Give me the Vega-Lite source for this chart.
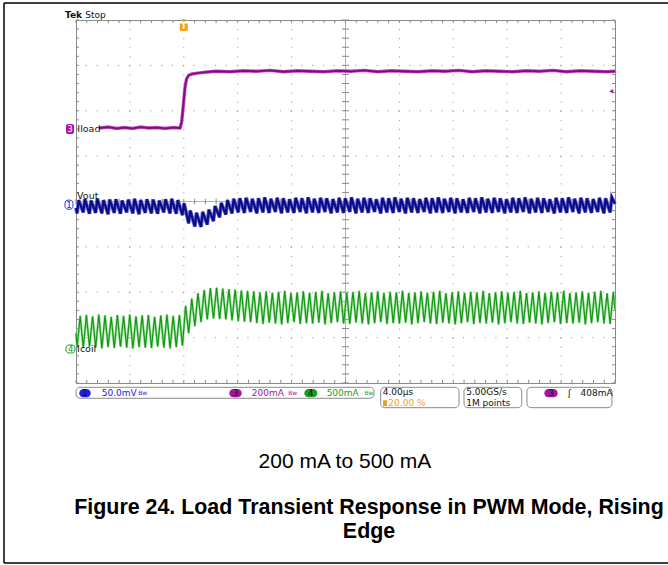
{
"$schema": "https://vega.github.io/schema/vega-lite/v6.json",
"width": 539, "height": 363,
"autosize": {"type": "none"},
"padding": {"left": 76, "top": 20, "right": 53, "bottom": 182},
"background": "white",
"config": {"view": {"stroke": "#8a8a8a", "strokeWidth": 1}, "font": "DejaVu Sans"},
"datasets": {
"tk": [{"v":0},{"v":0.2},{"v":0.4},{"v":0.6},{"v":0.8},{"v":1},{"v":1.2},{"v":1.4},{"v":1.6},{"v":1.8},{"v":2},{"v":2.2},{"v":2.4},{"v":2.6},{"v":2.8},{"v":3},{"v":3.2},{"v":3.4},{"v":3.6},{"v":3.8},{"v":4},{"v":4.2},{"v":4.4},{"v":4.6},{"v":4.8},{"v":5},{"v":5.2},{"v":5.4},{"v":5.6},{"v":5.8},{"v":6},{"v":6.2},{"v":6.4},{"v":6.6},{"v":6.8},{"v":7},{"v":7.2},{"v":7.4},{"v":7.6},{"v":7.8},{"v":8},{"v":8.2},{"v":8.4},{"v":8.6},{"v":8.8},{"v":9},{"v":9.2},{"v":9.4},{"v":9.6},{"v":9.8},{"v":10}],
"gx": [{"v":1},{"v":2},{"v":3},{"v":4},{"v":6},{"v":7},{"v":8},{"v":9}],
"gy": [{"v":1},{"v":2},{"v":3},{"v":5},{"v":6},{"v":7}],
"g": [{"x":0,"y":1.1},
{"x":0.02,"y":0.79},{"x":0.078,"y":1.48},{"x":0.135,"y":0.77},{"x":0.193,"y":1.5},{"x":0.25,"y":0.8},{"x":0.308,"y":1.47},{"x":0.365,"y":0.78},{"x":0.423,"y":1.51},{"x":0.48,"y":0.76},{"x":0.538,"y":1.49},{"x":0.595,"y":0.79},{"x":0.653,"y":1.46},{"x":0.71,"y":0.77},{"x":0.768,"y":1.5},{"x":0.825,"y":0.8},{"x":0.883,"y":1.48},{"x":0.94,"y":0.78},{"x":0.998,"y":1.51},{"x":1.055,"y":0.76},{"x":1.113,"y":1.47},{"x":1.17,"y":0.79},{"x":1.228,"y":1.49},{"x":1.285,"y":0.78},{"x":1.343,"y":1.5},{"x":1.4,"y":0.77},{"x":1.458,"y":1.46},{"x":1.515,"y":0.8},{"x":1.573,"y":1.49},{"x":1.63,"y":0.78},{"x":1.688,"y":1.51},{"x":1.745,"y":0.76},{"x":1.803,"y":1.48},{"x":1.86,"y":0.79},{"x":1.918,"y":1.5},
{"x":1.975,"y":0.82},{"x":2.033,"y":1.7},{"x":2.09,"y":1.1},{"x":2.148,"y":1.86},{"x":2.205,"y":1.25},{"x":2.263,"y":1.98},{"x":2.32,"y":1.34},{"x":2.378,"y":2.05},{"x":2.435,"y":1.4},{"x":2.493,"y":2.09},{"x":2.55,"y":1.42},{"x":2.608,"y":2.1},{"x":2.665,"y":1.41},{"x":2.723,"y":2.08},{"x":2.78,"y":1.4},{"x":2.838,"y":2.07},{"x":2.895,"y":1.38},{"x":2.953,"y":2.06},{"x":3.01,"y":1.36},{"x":3.068,"y":2.04},{"x":3.125,"y":1.35},{"x":3.183,"y":2.03},{"x":3.24,"y":1.34},{"x":3.298,"y":2.02},
{"x":3.355,"y":1.32},{"x":3.413,"y":2.0},{"x":3.47,"y":1.3},{"x":3.528,"y":2.02},{"x":3.585,"y":1.33},{"x":3.643,"y":1.99},{"x":3.7,"y":1.31},{"x":3.758,"y":2.01},{"x":3.815,"y":1.29},{"x":3.873,"y":2.03},{"x":3.93,"y":1.32},{"x":3.988,"y":1.98},{"x":4.045,"y":1.34},{"x":4.103,"y":2.0},{"x":4.16,"y":1.3},{"x":4.218,"y":2.02},{"x":4.275,"y":1.32},{"x":4.333,"y":1.99},{"x":4.39,"y":1.31},{"x":4.448,"y":2.01},{"x":4.505,"y":1.33},{"x":4.563,"y":2.03},{"x":4.62,"y":1.29},{"x":4.678,"y":1.98},{"x":4.735,"y":1.32},{"x":4.793,"y":2.0},{"x":4.85,"y":1.34},{"x":4.908,"y":2.02},{"x":4.965,"y":1.31},{"x":5.023,"y":1.99},{"x":5.08,"y":1.3},{"x":5.138,"y":2.01},{"x":5.195,"y":1.33},{"x":5.253,"y":2.03},{"x":5.31,"y":1.31},{"x":5.368,"y":1.98},{"x":5.425,"y":1.29},{"x":5.483,"y":2.0},{"x":5.54,"y":1.32},{"x":5.598,"y":2.02},{"x":5.655,"y":1.34},{"x":5.713,"y":1.99},{"x":5.77,"y":1.3},{"x":5.828,"y":2.01},{"x":5.885,"y":1.32},{"x":5.943,"y":2.0},{"x":6.0,"y":1.31},{"x":6.058,"y":2.03},{"x":6.115,"y":1.33},{"x":6.173,"y":1.98},{"x":6.23,"y":1.29},{"x":6.288,"y":2.0},{"x":6.345,"y":1.32},{"x":6.403,"y":2.02},{"x":6.46,"y":1.34},{"x":6.518,"y":1.99},{"x":6.575,"y":1.31},{"x":6.633,"y":2.01},{"x":6.69,"y":1.3},{"x":6.748,"y":2.03},{"x":6.805,"y":1.33},{"x":6.863,"y":1.98},{"x":6.92,"y":1.31},{"x":6.978,"y":2.0},{"x":7.035,"y":1.29},{"x":7.093,"y":2.02},{"x":7.15,"y":1.32},{"x":7.208,"y":1.99},{"x":7.265,"y":1.34},{"x":7.323,"y":2.01},{"x":7.38,"y":1.3},{"x":7.438,"y":2.0},{"x":7.495,"y":1.32},{"x":7.553,"y":2.03},{"x":7.61,"y":1.31},{"x":7.668,"y":1.98},{"x":7.725,"y":1.33},{"x":7.783,"y":2.0},{"x":7.84,"y":1.29},{"x":7.898,"y":2.02},{"x":7.955,"y":1.32},{"x":8.013,"y":1.99},{"x":8.07,"y":1.34},{"x":8.128,"y":2.01},{"x":8.185,"y":1.31},{"x":8.243,"y":2.03},{"x":8.3,"y":1.3},{"x":8.358,"y":1.98},{"x":8.415,"y":1.33},{"x":8.473,"y":2.0},{"x":8.53,"y":1.31},{"x":8.588,"y":2.02},{"x":8.645,"y":1.29},{"x":8.703,"y":1.99},{"x":8.76,"y":1.32},{"x":8.818,"y":2.01},{"x":8.875,"y":1.34},{"x":8.933,"y":2.0},{"x":8.99,"y":1.3},{"x":9.048,"y":2.03},{"x":9.105,"y":1.32},{"x":9.163,"y":1.98},{"x":9.22,"y":1.31},{"x":9.278,"y":2.0},{"x":9.335,"y":1.33},{"x":9.393,"y":2.02},{"x":9.45,"y":1.29},{"x":9.508,"y":1.99},{"x":9.565,"y":1.32},{"x":9.623,"y":2.01},{"x":9.68,"y":1.34},{"x":9.738,"y":2.03},{"x":9.795,"y":1.31},{"x":9.853,"y":1.98},{"x":9.91,"y":1.3},{"x":9.968,"y":2.0},{"x":10,"y":1.62}],
"b": [{"x":0,"y":3.86},
{"x":0.02,"y":3.74},{"x":0.05,"y":4.03},{"x":0.135,"y":3.76},{"x":0.165,"y":4.05},{"x":0.25,"y":3.73},{"x":0.28,"y":4.02},{"x":0.365,"y":3.75},{"x":0.395,"y":4.06},{"x":0.48,"y":3.74},{"x":0.51,"y":4.03},{"x":0.595,"y":3.72},{"x":0.625,"y":4.04},{"x":0.71,"y":3.75},{"x":0.74,"y":4.05},{"x":0.825,"y":3.73},{"x":0.855,"y":4.02},{"x":0.94,"y":3.76},{"x":0.97,"y":4.04},{"x":1.055,"y":3.74},{"x":1.085,"y":4.06},{"x":1.17,"y":3.72},{"x":1.2,"y":4.03},{"x":1.285,"y":3.75},{"x":1.315,"y":4.05},{"x":1.4,"y":3.74},{"x":1.43,"y":4.04},{"x":1.515,"y":3.73},{"x":1.545,"y":4.02},{"x":1.63,"y":3.76},{"x":1.66,"y":4.05},{"x":1.745,"y":3.74},{"x":1.775,"y":4.06},{"x":1.86,"y":3.73},{"x":1.89,"y":4.03},
{"x":1.975,"y":3.7},{"x":2.005,"y":3.96},{"x":2.09,"y":3.52},{"x":2.12,"y":3.8},{"x":2.205,"y":3.45},{"x":2.235,"y":3.75},{"x":2.32,"y":3.44},{"x":2.35,"y":3.77},{"x":2.435,"y":3.49},{"x":2.465,"y":3.82},{"x":2.55,"y":3.57},{"x":2.58,"y":3.9},{"x":2.665,"y":3.65},{"x":2.695,"y":3.97},{"x":2.78,"y":3.71},{"x":2.81,"y":4.03},{"x":2.895,"y":3.74},{"x":2.925,"y":4.06},
{"x":3.01,"y":3.76},{"x":3.04,"y":4.07},{"x":3.125,"y":3.75},{"x":3.155,"y":4.08},{"x":3.24,"y":3.77},{"x":3.27,"y":4.06},{"x":3.355,"y":3.74},{"x":3.385,"y":4.07},{"x":3.47,"y":3.76},{"x":3.5,"y":4.09},{"x":3.585,"y":3.75},{"x":3.615,"y":4.06},{"x":3.7,"y":3.77},{"x":3.73,"y":4.08},{"x":3.815,"y":3.74},{"x":3.845,"y":4.07},{"x":3.93,"y":3.76},{"x":3.96,"y":4.05},{"x":4.045,"y":3.75},{"x":4.075,"y":4.08},{"x":4.16,"y":3.77},{"x":4.19,"y":4.07},{"x":4.275,"y":3.74},{"x":4.305,"y":4.09},{"x":4.39,"y":3.76},{"x":4.42,"y":4.06},{"x":4.505,"y":3.75},{"x":4.535,"y":4.08},{"x":4.62,"y":3.77},{"x":4.65,"y":4.07},{"x":4.735,"y":3.74},{"x":4.765,"y":4.05},{"x":4.85,"y":3.76},{"x":4.88,"y":4.08},{"x":4.965,"y":3.75},{"x":4.995,"y":4.07},{"x":5.08,"y":3.77},{"x":5.11,"y":4.09},{"x":5.195,"y":3.74},{"x":5.225,"y":4.06},{"x":5.31,"y":3.76},{"x":5.34,"y":4.08},{"x":5.425,"y":3.75},{"x":5.455,"y":4.07},{"x":5.54,"y":3.77},{"x":5.57,"y":4.05},{"x":5.655,"y":3.74},{"x":5.685,"y":4.08},{"x":5.77,"y":3.76},{"x":5.8,"y":4.07},{"x":5.885,"y":3.75},{"x":5.915,"y":4.09},{"x":6.0,"y":3.77},{"x":6.03,"y":4.06},{"x":6.115,"y":3.74},{"x":6.145,"y":4.08},{"x":6.23,"y":3.76},{"x":6.26,"y":4.07},{"x":6.345,"y":3.75},{"x":6.375,"y":4.05},{"x":6.46,"y":3.77},{"x":6.49,"y":4.08},{"x":6.575,"y":3.74},{"x":6.605,"y":4.07},{"x":6.69,"y":3.76},{"x":6.72,"y":4.09},{"x":6.805,"y":3.75},{"x":6.835,"y":4.06},{"x":6.92,"y":3.77},{"x":6.95,"y":4.08},{"x":7.035,"y":3.74},{"x":7.065,"y":4.07},{"x":7.15,"y":3.76},{"x":7.18,"y":4.05},{"x":7.265,"y":3.75},{"x":7.295,"y":4.08},{"x":7.38,"y":3.77},{"x":7.41,"y":4.07},{"x":7.495,"y":3.74},{"x":7.525,"y":4.09},{"x":7.61,"y":3.76},{"x":7.64,"y":4.06},{"x":7.725,"y":3.75},{"x":7.755,"y":4.08},{"x":7.84,"y":3.77},{"x":7.87,"y":4.07},{"x":7.955,"y":3.74},{"x":7.985,"y":4.05},{"x":8.07,"y":3.76},{"x":8.1,"y":4.08},{"x":8.185,"y":3.75},{"x":8.215,"y":4.07},{"x":8.3,"y":3.77},{"x":8.33,"y":4.09},{"x":8.415,"y":3.74},{"x":8.445,"y":4.06},{"x":8.53,"y":3.76},{"x":8.56,"y":4.08},{"x":8.645,"y":3.75},{"x":8.675,"y":4.07},{"x":8.76,"y":3.77},{"x":8.79,"y":4.05},{"x":8.875,"y":3.74},{"x":8.905,"y":4.08},{"x":8.99,"y":3.76},{"x":9.02,"y":4.07},{"x":9.105,"y":3.75},{"x":9.135,"y":4.09},{"x":9.22,"y":3.77},{"x":9.25,"y":4.06},{"x":9.335,"y":3.74},{"x":9.365,"y":4.08},{"x":9.45,"y":3.76},{"x":9.48,"y":4.07},{"x":9.565,"y":3.75},{"x":9.595,"y":4.05},{"x":9.68,"y":3.77},{"x":9.71,"y":4.08},{"x":9.795,"y":3.74},{"x":9.825,"y":4.07},{"x":9.91,"y":3.76},{"x":9.94,"y":4.09},{"x":10,"y":3.95}],
"p": [{"x":0.43,"y":5.62},{"x":0.6,"y":5.64},{"x":0.75,"y":5.61},{"x":0.9,"y":5.63},{"x":1.05,"y":5.61},{"x":1.2,"y":5.64},{"x":1.35,"y":5.62},{"x":1.5,"y":5.63},{"x":1.65,"y":5.61},{"x":1.8,"y":5.63},{"x":1.93,"y":5.62},{"x":1.96,"y":5.75},{"x":1.99,"y":6.1},{"x":2.02,"y":6.5},{"x":2.05,"y":6.7},{"x":2.09,"y":6.78},{"x":2.15,"y":6.81},{"x":2.25,"y":6.83},{"x":2.4,"y":6.85},{"x":2.6,"y":6.87},{"x":2.85,"y":6.86},{"x":3.1,"y":6.88},{"x":3.35,"y":6.87},{"x":3.6,"y":6.89},{"x":3.85,"y":6.86},{"x":4.1,"y":6.88},{"x":4.35,"y":6.87},{"x":4.6,"y":6.86},{"x":4.85,"y":6.88},{"x":5.1,"y":6.87},{"x":5.35,"y":6.89},{"x":5.6,"y":6.86},{"x":5.85,"y":6.88},{"x":6.1,"y":6.87},{"x":6.35,"y":6.86},{"x":6.6,"y":6.88},{"x":6.85,"y":6.87},{"x":7.1,"y":6.89},{"x":7.35,"y":6.86},{"x":7.6,"y":6.88},{"x":7.85,"y":6.87},{"x":8.1,"y":6.86},{"x":8.35,"y":6.88},{"x":8.6,"y":6.87},{"x":8.85,"y":6.89},{"x":9.1,"y":6.86},{"x":9.35,"y":6.88},{"x":9.6,"y":6.87},{"x":9.85,"y":6.86},{"x":10,"y":6.87}],
"bx": [{"x":0,"x2":5.53,"y":-0.095,"y2":-0.337},{"x":5.653,"x2":7.106,"y":-0.095,"y2":-0.544},{"x":7.199,"x2":8.27,"y":-0.095,"y2":-0.544},{"x":8.367,"x2":9.944,"y":-0.095,"y2":-0.544}],
"pl": [{"x":0.061,"x2":0.273,"y":-0.132,"y2":-0.316,"xc":0.167,"yc":-0.224,"t":"1","ch":"1"},{"x":2.844,"x2":3.074,"y":-0.132,"y2":-0.316,"xc":2.959,"yc":-0.224,"t":"3","ch":"3"},{"x":4.236,"x2":4.477,"y":-0.132,"y2":-0.316,"xc":4.356,"yc":-0.224,"t":"4","ch":"4"},{"x":8.689,"x2":8.937,"y":-0.132,"y2":-0.316,"xc":8.813,"yc":-0.224,"t":"3","ch":"3"}],
"st": [{"x":0.477,"y":-0.224,"t":"50.0mV","ch":"1"},{"x":3.26,"y":-0.224,"t":"200mA","ch":"3"},{"x":4.65,"y":-0.224,"t":"500mA","ch":"4"},{"x":5.69,"y":-0.2,"t":"4.00µs","ch":"k"},{"x":5.795,"y":-0.445,"t":"20.00 %","ch":"T"},{"x":7.24,"y":-0.2,"t":"5.00GS/s","ch":"k"},{"x":7.24,"y":-0.445,"t":"1M points","ch":"k"},{"x":9.36,"y":-0.224,"t":"408mA","ch":"k"},{"x":9.13,"y":-0.224,"t":"ʃ","ch":"k"}],
"bw": [{"x":1.237,"y":-0.215,"ch":"1"},{"x":4.02,"y":-0.215,"ch":"3"},{"x":5.436,"y":-0.215,"ch":"4"}],
"sm": [{"x":-0.186,"x2":-0.037,"y":5.71,"y2":5.49,"xc":-0.11,"yc":5.6,"t":"3","ch":"3"},{"x":-0.204,"x2":-0.056,"y":4.03,"y2":3.83,"xc":-0.13,"yc":3.93,"t":"1","ch":"1"},{"x":-0.186,"x2":-0.019,"y":0.837,"y2":0.661,"xc":-0.1,"yc":0.75,"t":"4","ch":"4"}],
"lb": [{"x":0.025,"y":5.6,"t":"Iload"},{"x":0.02,"y":4.12,"t":"Vout"},{"x":0.02,"y":0.75,"t":"Icoil"}]
},
"layer": [
{"data": {"name": "gx"}, "mark": {"type": "rule", "color": "#8c8c8c", "strokeWidth": 1, "strokeDash": [1, 8.075]}, "encoding": {"x": {"field": "v", "type": "quantitative", "scale": {"domain": [0, 10], "nice": false, "zero": false}, "axis": null}}},
{"data": {"name": "gy"}, "mark": {"type": "rule", "color": "#8c8c8c", "strokeWidth": 1, "strokeDash": [1, 9.78]}, "encoding": {"y": {"field": "v", "type": "quantitative", "scale": {"domain": [0, 8], "nice": false, "zero": false}, "axis": null}}},
{"data": {"values": [{}]}, "mark": {"type": "rule", "color": "#b4b4b4", "strokeWidth": 1}, "encoding": {"y": {"datum": 4, "type": "quantitative", "axis": null}}},
{"data": {"values": [{}]}, "mark": {"type": "rule", "color": "#b4b4b4", "strokeWidth": 1}, "encoding": {"x": {"datum": 5, "type": "quantitative", "axis": null}}},
{"data": {"name": "tk"}, "mark": {"type": "rule", "color": "#8a8a8a"}, "encoding": {"x": {"field": "v", "type": "quantitative", "axis": null}, "y": {"datum": 3.94, "axis": null}, "y2": {"datum": 4.06}}},
{"data": {"name": "tk"}, "transform": [{"filter": "datum.v <= 8"}], "mark": {"type": "rule", "color": "#8a8a8a"}, "encoding": {"y": {"field": "v", "type": "quantitative", "axis": null}, "x": {"datum": 4.935, "axis": null}, "x2": {"datum": 5.065}}},
{"data": {"name": "tk"}, "mark": {"type": "rule", "color": "#8a8a8a"}, "encoding": {"x": {"field": "v", "type": "quantitative", "axis": null}, "y": {"datum": 8, "axis": null}, "y2": {"datum": 7.93}}},
{"data": {"name": "tk"}, "mark": {"type": "rule", "color": "#8a8a8a"}, "encoding": {"x": {"field": "v", "type": "quantitative", "axis": null}, "y": {"datum": 0, "axis": null}, "y2": {"datum": 0.07}}},
{"data": {"name": "tk"}, "transform": [{"filter": "datum.v <= 8"}], "mark": {"type": "rule", "color": "#8a8a8a"}, "encoding": {"y": {"field": "v", "type": "quantitative", "axis": null}, "x": {"datum": 0, "axis": null}, "x2": {"datum": 0.055}}},
{"data": {"name": "tk"}, "transform": [{"filter": "datum.v <= 8"}], "mark": {"type": "rule", "color": "#8a8a8a"}, "encoding": {"y": {"field": "v", "type": "quantitative", "axis": null}, "x": {"datum": 10, "axis": null}, "x2": {"datum": 9.945}}},
{"data": {"name": "g"}, "mark": {"type": "line", "color": "#8fdc8f", "strokeWidth": 2.4}, "encoding": {"x": {"field": "x", "type": "quantitative", "axis": null}, "y": {"field": "y", "type": "quantitative", "axis": null}}},
{"data": {"name": "g"}, "mark": {"type": "line", "color": "#0f960f", "strokeWidth": 1.1}, "encoding": {"x": {"field": "x", "type": "quantitative", "axis": null}, "y": {"field": "y", "type": "quantitative", "axis": null}}},
{"data": {"name": "b"}, "mark": {"type": "line", "color": "#6e6ed4", "strokeWidth": 3.8}, "encoding": {"x": {"field": "x", "type": "quantitative", "axis": null}, "y": {"field": "y", "type": "quantitative", "axis": null}}},
{"data": {"name": "b"}, "mark": {"type": "line", "color": "#0c0c86", "strokeWidth": 2.2}, "encoding": {"x": {"field": "x", "type": "quantitative", "axis": null}, "y": {"field": "y", "type": "quantitative", "axis": null}}},
{"data": {"name": "p"}, "mark": {"type": "line", "color": "#c050c0", "strokeWidth": 3.4}, "encoding": {"x": {"field": "x", "type": "quantitative", "axis": null}, "y": {"field": "y", "type": "quantitative", "axis": null}}},
{"data": {"name": "p"}, "mark": {"type": "line", "color": "#860886", "strokeWidth": 1.8}, "encoding": {"x": {"field": "x", "type": "quantitative", "axis": null}, "y": {"field": "y", "type": "quantitative", "axis": null}}},
{"data": {"name": "bx"}, "mark": {"type": "rect", "fill": "white", "stroke": "#8a8a8a", "strokeWidth": 1, "cornerRadius": 4}, "encoding": {"x": {"field": "x", "type": "quantitative", "axis": null}, "x2": {"field": "x2"}, "y": {"field": "y", "type": "quantitative", "axis": null}, "y2": {"field": "y2"}}},
{"data": {"name": "pl"}, "mark": {"type": "rect", "cornerRadius": 4.5}, "encoding": {"x": {"field": "x", "type": "quantitative", "axis": null}, "x2": {"field": "x2"}, "y": {"field": "y", "type": "quantitative", "axis": null}, "y2": {"field": "y2"}, "fill": {"field": "ch", "type": "nominal", "scale": {"domain": ["1","3","4","T","k"], "range": ["#2020e8","#a414a4","#16a016","#f0a020","#111111"]}, "legend": null}}},
{"data": {"name": "pl"}, "mark": {"type": "text", "fontSize": 8.5, "color": "#111111", "align": "center", "baseline": "middle"}, "encoding": {"x": {"field": "xc", "type": "quantitative", "axis": null}, "y": {"field": "yc", "type": "quantitative", "axis": null}, "text": {"field": "t"}}},
{"data": {"name": "st"}, "mark": {"type": "text", "fontSize": 9, "align": "left", "baseline": "middle"}, "encoding": {"x": {"field": "x", "type": "quantitative", "axis": null}, "y": {"field": "y", "type": "quantitative", "axis": null}, "text": {"field": "t"}, "fill": {"field": "ch", "type": "nominal", "scale": {"domain": ["1","3","4","T","k"], "range": ["#3434e6","#b420b4","#1e9e1e","#f0a020","#111111"]}, "legend": null}}},
{"data": {"name": "bw"}, "mark": {"type": "text", "fontSize": 6, "align": "center", "baseline": "middle", "text": "Bw"}, "encoding": {"x": {"field": "x", "type": "quantitative", "axis": null}, "y": {"field": "y", "type": "quantitative", "axis": null}, "fill": {"field": "ch", "type": "nominal", "scale": {"domain": ["1","3","4","T","k"], "range": ["#3434e6","#b420b4","#1e9e1e","#f0a020","#111111"]}, "legend": null}}},
{"data": {"values": [{"x1": 5.696, "x2": 5.77, "y1": -0.38, "y2": -0.51}]}, "mark": {"type": "rect", "fill": "#f0a020"}, "encoding": {"x": {"field": "x1", "type": "quantitative", "axis": null}, "x2": {"field": "x2"}, "y": {"field": "y1", "type": "quantitative", "axis": null}, "y2": {"field": "y2"}}},
{"data": {"name": "sm"}, "transform": [{"filter": "datum.ch == '3'"}], "mark": {"type": "rect", "fill": "#a818a8", "cornerRadius": 2}, "encoding": {"x": {"field": "x", "type": "quantitative", "axis": null}, "x2": {"field": "x2"}, "y": {"field": "y", "type": "quantitative", "axis": null}, "y2": {"field": "y2"}}},
{"data": {"name": "sm"}, "transform": [{"filter": "datum.ch != '3'"}], "mark": {"type": "rect", "fill": "white", "cornerRadius": 3, "strokeWidth": 1}, "encoding": {"x": {"field": "x", "type": "quantitative", "axis": null}, "x2": {"field": "x2"}, "y": {"field": "y", "type": "quantitative", "axis": null}, "y2": {"field": "y2"}, "stroke": {"field": "ch", "type": "nominal", "scale": {"domain": ["1","3","4","T","k"], "range": ["#3434e6","#b420b4","#1e9e1e","#f0a020","#111111"]}, "legend": null}}},
{"data": {"name": "sm"}, "transform": [{"filter": "datum.ch == '3'"}], "mark": {"type": "text", "fontSize": 8.5, "color": "white", "align": "center", "baseline": "middle"}, "encoding": {"x": {"field": "xc", "type": "quantitative", "axis": null}, "y": {"field": "yc", "type": "quantitative", "axis": null}, "text": {"field": "t"}}},
{"data": {"name": "sm"}, "transform": [{"filter": "datum.ch != '3'"}], "mark": {"type": "text", "fontSize": 8.5, "align": "center", "baseline": "middle"}, "encoding": {"x": {"field": "xc", "type": "quantitative", "axis": null}, "y": {"field": "yc", "type": "quantitative", "axis": null}, "text": {"field": "t"}, "fill": {"field": "ch", "type": "nominal", "scale": {"domain": ["1","3","4","T","k"], "range": ["#3434e6","#b420b4","#1e9e1e","#f0a020","#111111"]}, "legend": null}}},
{"data": {"name": "lb"}, "mark": {"type": "text", "fontSize": 9.5, "color": "#111111", "align": "left", "baseline": "middle"}, "encoding": {"x": {"field": "x", "type": "quantitative", "axis": null}, "y": {"field": "y", "type": "quantitative", "axis": null}, "text": {"field": "t"}}},
{"data": {"values": [{"x": -0.204, "y": 8.12, "t": "Tek"}]}, "mark": {"type": "text", "fontSize": 9, "fontWeight": "bold", "color": "#111111", "align": "left", "baseline": "middle"}, "encoding": {"x": {"field": "x", "type": "quantitative", "axis": null}, "y": {"field": "y", "type": "quantitative", "axis": null}, "text": {"field": "t"}}},
{"data": {"values": [{"x": 0.17, "y": 8.12, "t": "Stop"}]}, "mark": {"type": "text", "fontSize": 9, "color": "#111111", "align": "left", "baseline": "middle"}, "encoding": {"x": {"field": "x", "type": "quantitative", "axis": null}, "y": {"field": "y", "type": "quantitative", "axis": null}, "text": {"field": "t"}}},
{"data": {"values": [{"x1": 1.925, "x2": 2.075, "y1": 7.93, "y2": 7.76}]}, "mark": {"type": "rect", "fill": "#f5a00f", "cornerRadius": 1.5}, "encoding": {"x": {"field": "x1", "type": "quantitative", "axis": null}, "x2": {"field": "x2"}, "y": {"field": "y1", "type": "quantitative", "axis": null}, "y2": {"field": "y2"}}},
{"data": {"values": [{"x": 2.0, "y": 7.975}]}, "mark": {"type": "point", "shape": "triangle-down", "size": 18, "filled": true, "color": "#f5a00f", "opacity": 1}, "encoding": {"x": {"field": "x", "type": "quantitative", "axis": null}, "y": {"field": "y", "type": "quantitative", "axis": null}}},
{"data": {"values": [{"x": 2.0, "y": 7.845, "t": "T"}]}, "mark": {"type": "text", "fontSize": 8, "fontWeight": "bold", "color": "white", "align": "center", "baseline": "middle"}, "encoding": {"x": {"field": "x", "type": "quantitative", "axis": null}, "y": {"field": "y", "type": "quantitative", "axis": null}, "text": {"field": "t"}}},
{"data": {"values": [{"x": 9.93, "y": 6.43}]}, "mark": {"type": "point", "shape": "triangle-left", "size": 22, "filled": true, "color": "#a818a8", "opacity": 1}, "encoding": {"x": {"field": "x", "type": "quantitative", "axis": null}, "y": {"field": "y", "type": "quantitative", "axis": null}}},
{"data": {"values": [{"x": 4.99, "y": -1.873, "t": "200 mA to 500 mA"}]}, "mark": {"type": "text", "font": "Liberation Sans", "fontSize": 21, "color": "#000000", "align": "center", "baseline": "alphabetic"}, "encoding": {"x": {"field": "x", "type": "quantitative", "axis": null}, "y": {"field": "y", "type": "quantitative", "axis": null}, "text": {"field": "t"}}},
{"data": {"values": [{"x": 5.436, "y": -2.887, "t": "Figure 24. Load Transient Response in PWM Mode, Rising"}, {"x": 5.436, "y": -3.416, "t": "Edge"}]}, "mark": {"type": "text", "font": "Liberation Sans", "fontSize": 21.4, "fontWeight": "bold", "color": "#000000", "align": "center", "baseline": "alphabetic"}, "encoding": {"x": {"field": "x", "type": "quantitative", "axis": null}, "y": {"field": "y", "type": "quantitative", "axis": null}, "text": {"field": "t"}}},
{"data": {"values": [{}]}, "mark": {"type": "rule", "color": "#000000", "strokeWidth": 1.5}, "encoding": {"x": {"datum": -1.336, "type": "quantitative", "axis": null}, "y": {"datum": 8.375, "type": "quantitative", "axis": null}, "y2": {"datum": -3.967}}},
{"data": {"values": [{}]}, "mark": {"type": "rule", "color": "#000000", "strokeWidth": 1.5}, "encoding": {"y": {"datum": 8.375, "type": "quantitative", "axis": null}, "x": {"datum": -1.336, "type": "quantitative", "axis": null}, "x2": {"datum": 11.2}}},
{"data": {"values": [{}]}, "mark": {"type": "rule", "color": "#000000", "strokeWidth": 1.5}, "encoding": {"y": {"datum": -3.967, "type": "quantitative", "axis": null}, "x": {"datum": -1.336, "type": "quantitative", "axis": null}, "x2": {"datum": 11.2}}}
]
}
